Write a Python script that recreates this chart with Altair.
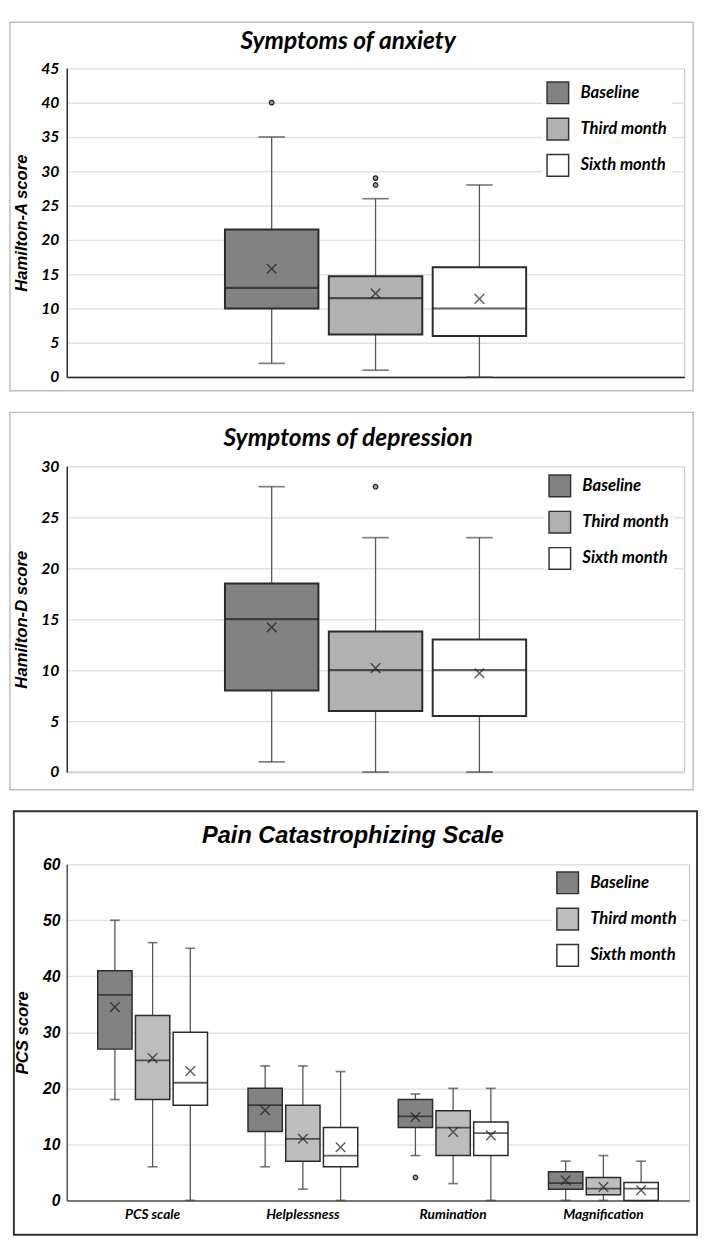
import altair as alt
import pandas as pd

periods = ["Baseline", "Third month", "Sixth month"]

# Symptoms of anxiety (Hamilton-A)
anx_low = [2, 1, 0]
anx_q1 = [10, 6.2, 6]
anx_median = [13, 11.5, 10]
anx_q3 = [21.5, 14.7, 16]
anx_high = [35, 26, 28]
anx_mean = [15.8, 12.2, 11.4]
anx_out_period = ["Baseline", "Third month", "Third month"]
anx_out_value = [40, 28, 29]

# Symptoms of depression (Hamilton-D)
dep_low = [1, 0, 0]
dep_q1 = [8, 6, 5.5]
dep_median = [15, 10, 10]
dep_q3 = [18.5, 13.8, 13]
dep_high = [28, 23, 23]
dep_mean = [14.2, 10.2, 9.7]
dep_out_period = ["Third month"]
dep_out_value = [28]

# Pain Catastrophizing Scale: rows = categories, columns = periods
pcs_categories = ["PCS scale", "Helplessness", "Rumination", "Magnification"]
pcs_low = [[18, 6, 0], [6, 2, 0], [8, 3, 0], [0, 0, 0]]
pcs_q1 = [[27, 18, 17], [12.3, 7, 6], [13, 8, 8], [2, 1, 0]]
pcs_median = [[36.7, 25, 21], [17, 11, 8], [15, 13, 12], [3.1, 2.1, 2.1]]
pcs_q3 = [[41, 33, 30], [20, 17, 13], [18, 16, 14], [5.1, 4.1, 3.2]]
pcs_high = [[50, 46, 45], [24, 24, 23], [19, 20, 20], [7, 8, 7]]
pcs_mean = [[34.5, 25.4, 23.1], [16.1, 11, 9.5], [14.9, 12.2, 11.6], [3.6, 2.4, 1.8]]
pcs_out_category = ["Rumination"]
pcs_out_period = ["Baseline"]
pcs_out_value = [4.1]

fills_hamilton = ["#828282", "#b3b0b0", "#ffffff"]
fills_pcs = ["#828282", "#bdbdbd", "#ffffff"]

anx_df = pd.DataFrame({"category": "all", "period": periods, "low": anx_low, "q1": anx_q1,
                       "median": anx_median, "q3": anx_q3, "high": anx_high, "mean": anx_mean})
anx_out = pd.DataFrame({"category": "all", "period": anx_out_period, "value": anx_out_value})
dep_df = pd.DataFrame({"category": "all", "period": periods, "low": dep_low, "q1": dep_q1,
                       "median": dep_median, "q3": dep_q3, "high": dep_high, "mean": dep_mean})
dep_out = pd.DataFrame({"category": "all", "period": dep_out_period, "value": dep_out_value})

rows = []
for ci, cat in enumerate(pcs_categories):
    for pi, per in enumerate(periods):
        rows.append({"category": cat, "period": per, "low": pcs_low[ci][pi], "q1": pcs_q1[ci][pi],
                     "median": pcs_median[ci][pi], "q3": pcs_q3[ci][pi], "high": pcs_high[ci][pi],
                     "mean": pcs_mean[ci][pi]})
pcs_df = pd.DataFrame(rows)
pcs_out = pd.DataFrame({"category": pcs_out_category, "period": pcs_out_period, "value": pcs_out_value})

CROSS = "M-1,-1L1,1M-1,1L1,-1"


def panel(stats, outs, *, title, title_font, title_size, title_x, title_y, y_title, y_max, y_step,
          width, height, xenc, box_w, cap_w, fills, legend_x, legend_y,
          border_box, border_color, border_width, label_font, label_size,
          ytitle_font, ytitle_size, ytitle_pad, label_pad, ydomain_color, box_stroke, med_thick):
    yscale = alt.Scale(domain=[0, y_max], nice=False, zero=True)
    yaxis = alt.Axis(values=list(range(0, y_max + 1, y_step)), ticks=False, labelPadding=label_pad,
                     labelFont=label_font, labelFontSize=label_size, labelFontStyle="italic",
                     labelFontWeight="bold", labelColor="black", domainColor=ydomain_color,
                     domainWidth=1.5, gridColor="#e2e2e2", gridWidth=1.5,
                     titleFont=ytitle_font, titleFontSize=ytitle_size, titleFontStyle="italic",
                     titleFontWeight="bold", titleColor="black", titlePadding=ytitle_pad)

    def Y(field):
        return alt.Y(field, scale=yscale, axis=yaxis, title=y_title)

    base = alt.Chart(stats)
    whisk = base.mark_rule(color="#555555", strokeWidth=1.3).encode(**xenc, y=Y("low:Q"), y2="high:Q")
    cap_lo = base.mark_tick(color="#444444", size=cap_w, thickness=1.7).encode(**xenc, y=Y("low:Q"))
    cap_hi = base.mark_tick(color="#444444", size=cap_w, thickness=1.7).encode(**xenc, y=Y("high:Q"))
    box = base.mark_bar(stroke="#2b2b2b", strokeWidth=box_stroke).encode(
        **xenc, y=Y("q1:Q"), y2="q3:Q",
        color=alt.Color("period:N", scale=alt.Scale(domain=periods, range=fills),
                        legend=alt.Legend(orient="none", legendX=legend_x, legendY=legend_y, title=None,
                                          symbolType="square", symbolSize=484,
                                          symbolStrokeColor="#333333", symbolStrokeWidth=1.5,
                                          symbolOpacity=1,
                                          labelFont="Lato", labelFontSize=17, labelFontStyle="italic",
                                          labelFontWeight="bold", labelColor="black",
                                          fillColor="white", padding=4, rowPadding=9, labelOffset=11)))
    med = base.mark_tick(color="#1e1e1e", size=box_w, thickness=med_thick).encode(**xenc, y=Y("median:Q"))
    mean = base.mark_point(shape=CROSS, filled=False, size=95, color="#1e1e1e", strokeWidth=1.5).encode(
        **xenc, y=Y("mean:Q"))
    out = alt.Chart(outs).mark_point(shape="circle", filled=True, size=22, fill="#a0a0a0",
                                     stroke="#222222", strokeWidth=1.2, opacity=1).encode(
        **xenc, y=Y("value:Q"))

    deco = pd.DataFrame({"t": [title]})
    bx0, bx1, by0, by1 = border_box
    border = alt.Chart(deco).mark_rect(fillOpacity=0, stroke=border_color, strokeWidth=border_width).encode(
        x=alt.value(bx0), x2=alt.value(width + bx1), y=alt.value(by0), y2=alt.value(height + by1))
    ttl = alt.Chart(deco).mark_text(font=title_font, fontSize=title_size, fontStyle="italic", fontWeight="bold",
                                    color="black", align="center", baseline="middle").encode(
        x=alt.value(title_x), y=alt.value(title_y), text="t:N")

    return alt.layer(border, ttl, whisk, cap_lo, cap_hi, box, med, mean, out).properties(
        width=width, height=height)


def hamilton_x(domain_color):
    return {
        "x": alt.X("category:N", scale=alt.Scale(domain=["all"], paddingInner=0, paddingOuter=0.525),
                   axis=alt.Axis(labels=False, ticks=False, title=None, grid=False,
                                 domainColor=domain_color, domainWidth=1.5)),
        "xOffset": alt.XOffset("period:N", scale=alt.Scale(domain=periods, paddingInner=0.1, paddingOuter=0)),
    }


p1 = panel(anx_df, anx_out, title="Symptoms of anxiety", title_font="Lato", title_size=25,
           title_x=287, title_y=-28,
           y_title="Hamilton-A score", y_max=45, y_step=5, width=630, height=315,
           xenc=hamilton_x("#222222"), box_w=95, cap_w=27, fills=fills_hamilton,
           legend_x=485, legend_y=9, border_box=(-58, 9, -47, 14), border_color="#bdbdbd",
           border_width=1.5, label_font="Lato", label_size=16, ytitle_font="Liberation Sans",
           ytitle_size=17, ytitle_pad=11, label_pad=8, ydomain_color="#333333",
           box_stroke=2, med_thick=2.2)

p2 = panel(dep_df, dep_out, title="Symptoms of depression", title_font="Lato", title_size=25,
           title_x=287, title_y=-29,
           y_title="Hamilton-D score", y_max=30, y_step=5, width=630, height=312,
           xenc=hamilton_x("#d0d0d0"), box_w=95, cap_w=27, fills=fills_hamilton,
           legend_x=487, legend_y=4, border_box=(-58, 9, -55, 18), border_color="#bdbdbd",
           border_width=1.5, label_font="Lato", label_size=16, ytitle_font="Liberation Sans",
           ytitle_size=17, ytitle_pad=11, label_pad=8, ydomain_color="#333333",
           box_stroke=2, med_thick=2.2)

pcs_x = {
    "x": alt.X("category:N", sort=pcs_categories,
               scale=alt.Scale(domain=pcs_categories, paddingInner=0, paddingOuter=0.071),
               axis=alt.Axis(title=None, labelAngle=0, ticks=False, grid=False, labelPadding=7,
                             labelFont="Lato", labelFontSize=14, labelFontStyle="italic",
                             labelFontWeight="bold", labelColor="black",
                             domainColor="#555555", domainWidth=1.5)),
    "xOffset": alt.XOffset("period:N", scale=alt.Scale(domain=periods, paddingInner=0.09, paddingOuter=0.537)),
}

p3 = panel(pcs_df, pcs_out, title="Pain Catastrophizing Scale", title_font="Liberation Sans", title_size=24,
           title_x=292, title_y=-29, y_title="PCS score", y_max=60, y_step=10, width=635, height=343,
           xenc=pcs_x, box_w=35, cap_w=10, fills=fills_pcs,
           legend_x=495, legend_y=3, border_box=(-54, 8, -54, 35), border_color="#333333",
           border_width=2, label_font="Liberation Sans", label_size=16, ytitle_font="Liberation Sans",
           ytitle_size=17, ytitle_pad=11, label_pad=7, ydomain_color="#555555",
           box_stroke=1.5, med_thick=1.8)

chart = alt.vconcat(p1, p2, p3, spacing=18).resolve_scale(
    color="independent", x="independent", y="independent", xOffset="independent"
).properties(padding=0).configure_view(stroke="#c8c8c8", strokeWidth=1.2)

chart.save("out.html", embed_options={"renderer": "svg", "actions": False})
